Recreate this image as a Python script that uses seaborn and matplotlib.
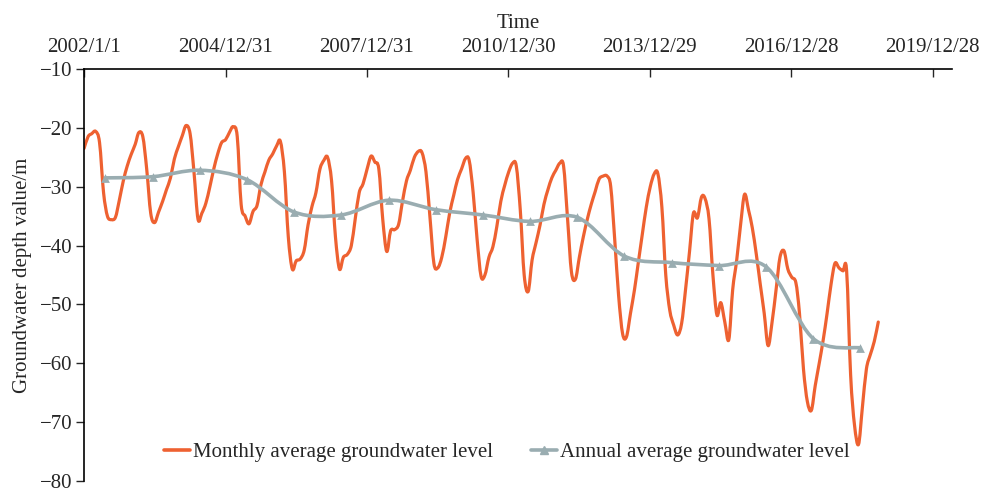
"""Monthly vs annual groundwater depth, 2002-2018 (smoothed lines, time axis on top)."""
import matplotlib

matplotlib.use("Agg")
import matplotlib.dates as mdates
import matplotlib.pyplot as plt
import numpy as np
import pandas as pd
import seaborn as sns
from matplotlib.lines import Line2D
from matplotlib.patches import PathPatch
from matplotlib.path import Path

# monthly average depth (m), 2002/1 .. 2018/11, first of each month
monthly_depth = [
    # 2002
    -23.5, -21.5, -21.0, -20.6, -22.5, -31.0, -35.0, -35.6, -35.2, -32.3, -29.0, -26.5,
    # 2003
    -24.5, -22.8, -20.8, -21.5, -27.0, -34.5, -36.1, -34.3, -32.5, -30.5, -28.5, -25.3,
    # 2004
    -23.2, -21.3, -19.6, -21.0, -27.5, -35.5, -34.5, -32.8, -30.0, -27.0, -24.4, -22.5,
    # 2005
    -22.0, -20.7, -19.8, -21.5, -33.0, -35.0, -36.3, -34.2, -33.2, -29.7, -27.5, -25.5,
    # 2006
    -24.4, -23.0, -22.3, -27.5, -38.5, -44.0, -42.6, -42.3, -40.8, -36.5, -33.3, -31.0,
    # 2007
    -27.0, -25.5, -25.0, -29.0, -38.5, -44.0, -42.0, -41.5, -40.0, -35.5, -31.0, -29.5,
    # 2008
    -27.0, -24.8, -25.8, -27.0, -35.5, -41.0, -37.5, -37.3, -36.4, -32.5, -29.0, -27.2,
    # 2009
    -25.0, -24.0, -24.2, -27.5, -35.0, -43.0, -43.8, -42.0, -38.5, -34.5, -31.5, -28.8,
    # 2010
    -27.0, -25.2, -25.5, -31.0, -38.8, -45.2, -45.0, -42.0, -40.2, -36.8, -32.5, -29.8,
    # 2011
    -27.5, -26.0, -26.5, -34.0, -45.0, -47.8, -42.5, -39.5, -36.5, -33.0, -30.5, -28.5,
    # 2012
    -27.2, -26.0, -26.5, -35.5, -44.5, -45.7, -42.0, -38.5, -35.5, -33.0, -30.8, -28.7,
    # 2013
    -28.2, -28.2, -30.0, -39.0, -48.5, -55.0, -55.5, -51.5, -47.5, -42.8, -38.0, -33.5,
    # 2014
    -30.0, -27.8, -27.8, -33.5, -45.0, -51.0, -53.5, -55.2, -53.2, -47.5, -41.0, -34.5,
    # 2015
    -35.3, -31.8, -32.0, -35.5, -45.0, -51.8, -49.7, -53.0, -56.0, -47.5, -42.5, -36.5,
    # 2016
    -31.3, -34.0, -37.0, -41.5, -46.5, -51.5, -57.0, -53.0, -47.5, -42.0, -40.9, -44.0,
    # 2017
    -45.4, -46.3, -51.5, -61.0, -66.5, -68.0, -63.8, -60.0, -56.0, -51.5, -46.5, -43.0,
    # 2018
    -43.8, -44.3, -44.3, -62.0, -70.5, -73.8, -67.5, -61.0, -58.5, -56.3, -53.0,
]

years = list(range(2002, 2019))
annual_depth = [-28.5, -28.3, -27.2, -28.8, -34.3, -34.8, -32.3, -33.9, -34.8,
                -35.9, -35.2, -41.8, -42.9, -43.4, -43.6, -55.8, -57.4]

tick_dates = ["2002-01-01", "2004-12-31", "2007-12-31", "2010-12-30",
              "2013-12-29", "2016-12-28", "2019-12-28"]
y_ticks = [-10, -20, -30, -40, -50, -60, -70, -80]

ORANGE = "#EE6131"
GREY = "#9AADB1"

month_dates = pd.date_range("2002-01-01", periods=len(monthly_depth), freq="MS")
year_dates = pd.to_datetime([f"{y}-06-15" for y in years])


def smooth_path(x, y):
    # Excel-style smoothed line: cubic Bezier through every point
    x = np.asarray(x, float)
    y = np.asarray(y, float)
    pts = np.column_stack([x, y])
    verts = [pts[0]]
    codes = [Path.MOVETO]
    n = len(pts)
    for i in range(n - 1):
        p0 = pts[max(i - 1, 0)]
        p1 = pts[i]
        p2 = pts[i + 1]
        p3 = pts[min(i + 2, n - 1)]
        verts += [p1 + (p2 - p0) / 6, p2 - (p3 - p1) / 6, p2]
        codes += [Path.CURVE4] * 3
    return Path(verts, codes)


sns.set_theme(style="ticks")
plt.rcParams["font.family"] = ["Liberation Serif", "DejaVu Serif"]
plt.rcParams["axes.unicode_minus"] = True

fig = plt.figure(figsize=(9.83, 4.93), dpi=100)
ax = fig.add_axes([0.0855, 0.0245, 0.883, 0.8355])

mx = mdates.date2num(month_dates)
yx = mdates.date2num(year_dates)

ax.add_patch(PathPatch(smooth_path(mx, monthly_depth), fill=False,
                       edgecolor=ORANGE, lw=2.3, capstyle="round", joinstyle="round"))
ax.add_patch(PathPatch(smooth_path(yx, annual_depth), fill=False,
                       edgecolor=GREY, lw=2.6, capstyle="round", joinstyle="round"))
sns.scatterplot(x=year_dates, y=annual_depth, marker="^", s=40, color=GREY,
                edgecolor=GREY, linewidth=0, ax=ax, zorder=3)

ax.set_xlim(pd.Timestamp("2002-01-01"), pd.Timestamp("2020-05-25"))
ax.set_ylim(-80, -10)
ax.set_yticks(y_ticks)

tk = pd.to_datetime(tick_dates)
ax.set_xticks(tk)
ax.set_xticklabels([f"{d.year}/{d.month}/{d.day}" for d in tk])
ax.xaxis.tick_top()
ax.xaxis.set_label_position("top")
ax.tick_params(axis="x", direction="in", length=6, width=1, pad=9, labelsize=15,
               top=True, bottom=False)
ax.tick_params(axis="y", direction="out", length=6, width=1, pad=2, labelsize=15)

ax.set_xlabel("Time", fontsize=15, labelpad=7)
ax.set_ylabel("Groundwater depth value/m", fontsize=15, labelpad=6)

for side in ["right", "bottom"]:
    ax.spines[side].set_visible(False)
for side in ["top", "left"]:
    ax.spines[side].set_color("black")
    ax.spines[side].set_linewidth(1.2)

handles = [
    Line2D([], [], color=ORANGE, lw=2.6),
    Line2D([], [], color=GREY, lw=2.6, marker="^", markersize=6),
]
ax.legend(handles, ["Monthly average groundwater level", "Annual average groundwater level"],
          loc="lower center", bbox_to_anchor=(0.487, 0.0), ncol=2, frameon=False,
          fontsize=15, handlelength=1.25, handletextpad=0.15, columnspacing=1.8)

fig.savefig("out.png", dpi=100)
